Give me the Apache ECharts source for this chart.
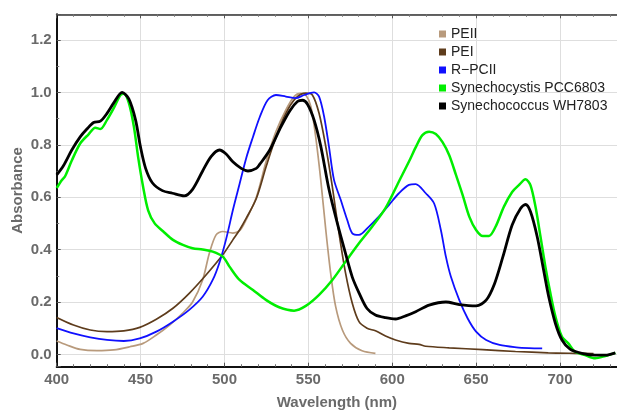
<!DOCTYPE html>
<html>
<head>
<meta charset="utf-8">
<script src="https://cdn.jsdelivr.net/npm/echarts@6/dist/echarts.min.js"></script>
<style>
html,body{margin:0;padding:0;background:#fff;}
#c{width:617px;height:411px;}
</style>
</head>
<body>
<div id="c"></div>
<script>
const seriesNames = ['PEII', 'PEI', 'R\u2212PCII', 'Synechocystis PCC6803', 'Synechococcus WH7803'];
const xTicks = [400, 450, 500, 550, 600, 650, 700];
const yTicks = [0.0, 0.2, 0.4, 0.6, 0.8, 1.0, 1.2];

const peii = [[400,0.051],[406,0.036],[414,0.019],[424,0.014],[434,0.017],[443.6,0.029],[451.5,0.042],[459.4,0.074],[467.3,0.112],[475,0.157],[481,0.20],[487,0.284],[491,0.386],[495,0.456],[499,0.469],[505,0.463],[509,0.472],[513,0.515],[519,0.60],[525,0.74],[530.7,0.85],[536.6,0.933],[541.5,0.984],[545.5,0.996],[548.5,0.99],[551.5,0.946],[554.4,0.83],[557.4,0.666],[560.4,0.475],[563.3,0.31],[566.3,0.182],[570.3,0.093],[575.2,0.042],[582,0.014],[590,0.004]];

const pei = [[400,0.141],[410,0.112],[420,0.093],[430,0.087],[440,0.09],[449.5,0.103],[459.4,0.134],[469.3,0.176],[479,0.233],[489,0.303],[499,0.38],[505,0.437],[509,0.475],[513,0.52],[519,0.595],[525,0.72],[530.7,0.83],[536.6,0.92],[542.5,0.978],[548.5,0.997],[552.4,0.99],[556.4,0.92],[560.4,0.793],[564.3,0.64],[568.3,0.462],[572.2,0.31],[576.2,0.195],[580.2,0.125],[585,0.10],[590,0.09],[596,0.07],[602,0.055],[610,0.042],[616,0.038],[620,0.031],[634,0.025],[654,0.018],[673.5,0.011],[693,0.006],[709,0.004],[720,0.003]];

const rpcii = [[400,0.10],[410,0.08],[420,0.065],[430,0.055],[440,0.051],[449.5,0.061],[459.4,0.087],[469.3,0.125],[479,0.17],[487,0.22],[493,0.284],[497,0.35],[501,0.44],[505,0.55],[509,0.65],[513,0.75],[517,0.83],[521,0.905],[525.7,0.97],[530.7,0.99],[536.6,0.984],[542.5,0.978],[547.5,0.99],[553.4,1.0],[556.4,0.984],[559.4,0.908],[562.3,0.793],[565.3,0.666],[569.3,0.59],[573.2,0.513],[576.2,0.462],[580.2,0.456],[586,0.487],[592,0.526],[598,0.57],[604,0.615],[610,0.647],[614,0.65],[620,0.615],[625,0.576],[629,0.475],[632,0.373],[635,0.296],[640,0.207],[645,0.137],[650,0.087],[656,0.055],[664,0.036],[674,0.027],[681.5,0.024],[689.4,0.023]];

const synechocystis = [[400,0.635],[403,0.665],[405,0.68],[409,0.74],[414,0.805],[419,0.84],[423,0.865],[426,0.86],[430,0.895],[434,0.94],[438,0.99],[440,0.995],[443,0.96],[446,0.87],[448.5,0.755],[451.5,0.64],[454.5,0.55],[458.4,0.50],[463.4,0.47],[469.3,0.437],[475.2,0.418],[481,0.405],[487,0.40],[493,0.392],[499,0.373],[503,0.335],[509,0.284],[517,0.246],[524.7,0.208],[532.6,0.18],[541.5,0.167],[548.5,0.185],[556.4,0.227],[564.3,0.284],[572.2,0.354],[580.2,0.424],[588,0.487],[596,0.558],[604,0.66],[610,0.736],[614,0.79],[618,0.837],[622,0.85],[626,0.841],[630,0.81],[634,0.76],[638,0.685],[642,0.608],[646,0.525],[650,0.475],[654,0.452],[657.7,0.452],[661.6,0.487],[666.6,0.564],[671.5,0.62],[675.5,0.646],[679.5,0.668],[682.4,0.646],[685.4,0.564],[688.4,0.449],[691.3,0.335],[694.3,0.233],[697.3,0.144],[701.2,0.067],[705,0.042],[709,0.01],[715,-0.003],[721,-0.015],[727,-0.006],[733,0.006]];

const synechococcus = [[400,0.685],[404,0.72],[409,0.78],[414,0.83],[418,0.86],[422,0.885],[426,0.89],[430,0.92],[434,0.96],[439,1.0],[443,0.975],[447,0.895],[450,0.79],[453,0.71],[457,0.655],[463,0.625],[469,0.615],[476,0.605],[481,0.63],[487,0.70],[492,0.755],[497,0.78],[501,0.765],[505,0.735],[510,0.71],[514,0.70],[519,0.71],[521,0.725],[527,0.78],[533,0.86],[539,0.93],[543.5,0.965],[546.5,0.97],[549.5,0.955],[553.4,0.895],[557.4,0.795],[562.3,0.63],[567.3,0.50],[572.2,0.385],[576.2,0.295],[580.2,0.235],[585,0.175],[590,0.15],[596,0.14],[602,0.135],[608,0.147],[614,0.163],[622,0.188],[632,0.20],[640,0.19],[650,0.185],[656,0.207],[661,0.27],[666,0.373],[671.5,0.494],[676.5,0.557],[679.5,0.572],[682.4,0.545],[686.4,0.45],[690.3,0.32],[693.3,0.22],[697.3,0.118],[701.2,0.055],[706,0.02],[713,0.004],[721,-0.003],[727,-0.003],[733,0.006]];

const colors = ['#b89a7c', '#5e3c1c', '#1010ff', '#00ee00', '#000000'];
const widths = [1.7, 1.7, 1.8, 2.5, 2.8];
const dataSets = [peii, pei, rpcii, synechocystis, synechococcus];

const chart = echarts.init(document.getElementById('c'), null, {renderer: 'canvas'});
const labelStyle = {color: '#6a6a6a', fontWeight: 'bold', fontSize: 15, fontFamily: 'Liberation Sans, Arial, sans-serif'};

chart.setOption({
  animation: false,
  backgroundColor: '#fff',
  grid: {left: 56.7, right: 0, top: 14.3, bottom: 44.3, containLabel: false, outerBoundsMode: 'none'},
  legend: {
    orient: 'vertical',
    left: 439, top: 26,
    padding: 0,
    itemWidth: 7, itemHeight: 7, itemGap: 2,
    icon: 'rect',
    textStyle: {fontSize: 14, lineHeight: 16, color: '#222', fontFamily: 'Liberation Sans, Arial, sans-serif'},
    data: seriesNames
  },
  xAxis: [{
    type: 'value', min: 400, max: 734, interval: 50,
    name: 'Wavelength (nm)', nameLocation: 'middle', nameGap: 29, nameMoveOverlap: false,
    nameTextStyle: {color: '#6a6a6a', fontWeight: 'bold', fontSize: 15, fontFamily: 'Liberation Sans, Arial, sans-serif'},
    axisLine: {show: true, onZero: false, lineStyle: {color: '#111', width: 2}},
    axisTick: {show: true, inside: true, length: 4, lineStyle: {color: '#555'}},
    minorTick: {show: true, splitNumber: 5, length: 2.5, lineStyle: {color: '#777'}},
    axisLabel: Object.assign({margin: 6, showMaxLabel: false, formatter: v => xTicks.includes(v) ? String(v) : ''}, labelStyle),
    splitLine: {show: true, lineStyle: {color: '#dedede', width: 1}}
  }, {
    type: 'value', min: 400, max: 734, interval: 50, position: 'top',
    axisLine: {show: true, onZero: false, lineStyle: {color: '#333', width: 1.6}},
    axisTick: {show: true, inside: true, length: 4, lineStyle: {color: '#555'}},
    minorTick: {show: true, splitNumber: 5, length: 2.5, lineStyle: {color: '#777'}},
    axisLabel: {show: false},
    splitLine: {show: false}
  }],
  yAxis: {
    type: 'value', min: -0.047, max: 1.298, splitNumber: 6,
    name: 'Absorbance', nameLocation: 'middle', nameGap: 31, nameRotate: 90, nameMoveOverlap: false,
    nameTextStyle: {color: '#6a6a6a', fontWeight: 'bold', fontSize: 15, fontFamily: 'Liberation Sans, Arial, sans-serif'},
    axisLine: {show: true, onZero: false, lineStyle: {color: '#111', width: 2}},
    axisTick: {show: true, inside: true, length: 4, lineStyle: {color: '#555'}},
    minorTick: {show: true, splitNumber: 2, length: 2.5, lineStyle: {color: '#777'}},
    axisLabel: Object.assign({margin: 5, showMinLabel: false, showMaxLabel: false,
      formatter: v => { const r = Math.round(v * 10) / 10; return yTicks.some(t => Math.abs(t - v) < 1e-6) ? r.toFixed(1) : ''; }}, labelStyle),
    splitLine: {show: true, lineStyle: {color: '#dedede', width: 1}}
  },
  series: seriesNames.map((n, i) => ({
    name: n, type: 'line', data: dataSets[i], xAxisIndex: 0,
    showSymbol: false, symbol: 'none', smooth: 0.3,
    clip: true,
    itemStyle: {color: colors[i]},
    lineStyle: {color: colors[i], width: widths[i]},
    z: 2 + i
  }))
});
</script>
</body>
</html>
